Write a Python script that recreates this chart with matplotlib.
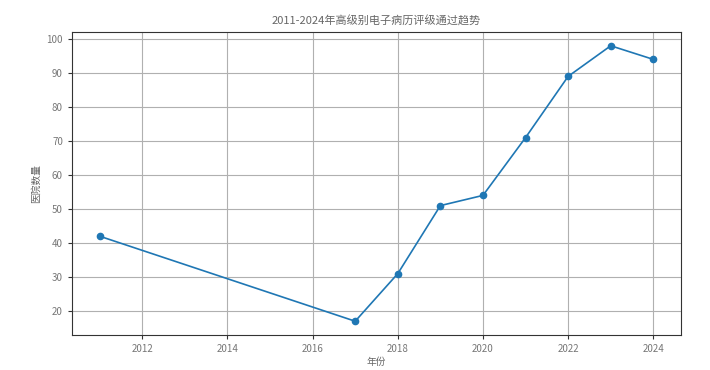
import matplotlib
matplotlib.use("Agg")
import matplotlib.pyplot as plt

plt.rcParams['font.family'] = ['Noto Sans CJK SC', 'DejaVu Sans']

years = [2011, 2017, 2018, 2019, 2020, 2021, 2022, 2023, 2024]
counts = [42, 17, 31, 51, 54, 71, 89, 98, 94]
title = "2011-2024年高级别电子病历评级通过趋势"
xlabel = "年份"
ylabel = "医院数量"

fig = plt.figure(figsize=(7.1, 3.7), dpi=100)
ax = fig.add_axes([72/710, 1 - 335/370, (681-72)/710, (335-32)/370])
ax.plot(years, counts, marker='o', color='#1f77b4', linewidth=1.2, markersize=4.5)
ax.grid(True, color='#b0b0b0', linewidth=0.8)
ax.set_axisbelow(True)
ax.set_title(title, fontsize=8, color='#666666', pad=5)
ax.set_xlabel(xlabel, fontsize=7, color='#666666', labelpad=2)
ax.set_ylabel(ylabel, fontsize=7, color='#666666', labelpad=4)
ax.tick_params(labelsize=7, colors='#777777', length=3, width=0.8)
ax.tick_params(colors='#333333', which='both', labelcolor='#777777')
for s in ax.spines.values():
    s.set_color('#333333')
    s.set_linewidth(0.8)
ax.set_xticks([2012, 2014, 2016, 2018, 2020, 2022, 2024])
ax.set_yticks(range(20, 101, 10))
ax.set_xlim(2010.35, 2024.65)
ax.set_ylim(12.95, 102.05)
fig.savefig("out.png", dpi=100)
